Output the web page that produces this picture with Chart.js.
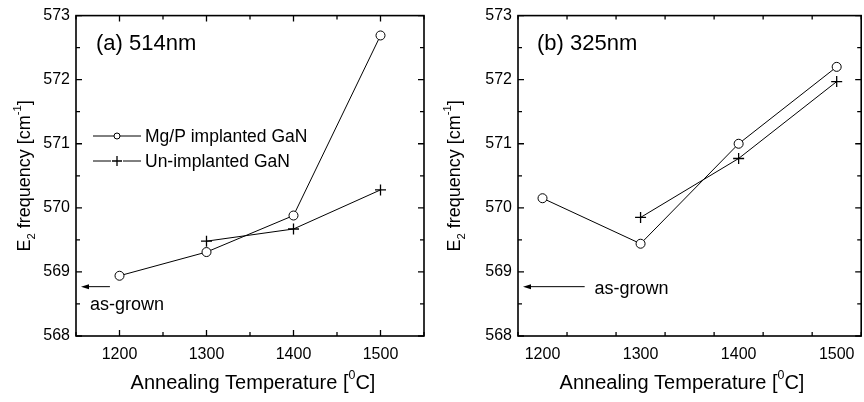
<!DOCTYPE html>
<html>
<head>
<meta charset="utf-8">
<script src="https://cdn.jsdelivr.net/npm/chart.js@4"></script>
<style>
html, body { margin: 0; padding: 0; background: #fff; overflow: hidden; width: 864px; height: 402px; }
#a { position: absolute; left: 0; top: 0; width: 432px; height: 402px; }
#b { position: absolute; left: 432px; top: 0; width: 436px; height: 402px; }
</style>
</head>
<body>
<div id="a"><canvas id="c1"></canvas></div>
<div id="b"><canvas id="c2"></canvas></div>
<script>
// annealing temperatures (C)
const temps = [1200, 1300, 1400, 1500];
// E2 frequency (cm-1), 514nm excitation
const mgp514 = [568.94, 569.31, 569.88, 572.69];
const un514 = [null, 569.48, 569.67, 570.28];
// E2 frequency (cm-1), 325nm excitation
const mgp325 = [570.15, 569.44, 571.0, 572.2];
const un325 = [null, 569.85, 570.77, 571.97];
const asGrown514 = 568.77;
const asGrown325 = 568.77;
const xTicks = [1200, 1300, 1400, 1500];
const yTicks = [568, 569, 570, 571, 572, 573];

const FONT = 'Arial, "Liberation Sans", sans-serif';

const pts = arr => temps.map((t, i) => ({ x: t, y: arr[i] })).filter(p => p.y !== null);

function rich(ctx, parts, cx, cy, size, rot) {
  ctx.save();
  ctx.translate(cx, cy);
  if (rot) ctx.rotate(-Math.PI / 2);
  ctx.textBaseline = 'middle';
  ctx.textAlign = 'left';
  ctx.fillStyle = '#000';
  let w = 0;
  parts.forEach(p => {
    ctx.font = (p[1] ? size * 0.62 : size) + 'px ' + FONT;
    w += ctx.measureText(p[0]).width;
  });
  let x = -w / 2;
  parts.forEach(p => {
    ctx.font = (p[1] ? size * 0.62 : size) + 'px ' + FONT;
    ctx.fillText(p[0], x, p[1] * size * 0.38);
    x += ctx.measureText(p[0]).width;
  });
  ctx.restore();
}

function cross(ctx, x, y, r) {
  ctx.beginPath();
  ctx.moveTo(x - r, y); ctx.lineTo(x + r, y);
  ctx.moveTo(x, y - r); ctx.lineTo(x, y + r);
  ctx.stroke();
}

const deco = {
  id: 'deco',
  afterDraw(chart, args, o) {
    const { ctx, chartArea: a, scales: { x, y } } = chart;
    ctx.save();
    ctx.strokeStyle = '#000';
    ctx.fillStyle = '#000';
    // frame
    ctx.lineWidth = 1.6;
    ctx.strokeRect(a.left, a.top, a.right - a.left, a.bottom - a.top);
    // inward ticks on all sides
    ctx.lineWidth = 1.3;
    ctx.beginPath();
    for (let v = x.min; v <= x.max + 0.1; v += 50) {
      const px = x.getPixelForValue(v);
      const len = v % 100 === 0 ? 6 : 4;
      ctx.moveTo(px, a.bottom); ctx.lineTo(px, a.bottom - len);
      ctx.moveTo(px, a.top); ctx.lineTo(px, a.top + len);
    }
    for (let v = y.min; v <= y.max + 0.01; v += 0.5) {
      const py = y.getPixelForValue(v);
      const len = Number.isInteger(v) ? 6 : 4;
      ctx.moveTo(a.left, py); ctx.lineTo(a.left + len, py);
      ctx.moveTo(a.right, py); ctx.lineTo(a.right - len, py);
    }
    ctx.stroke();

    // axis titles
    rich(ctx, [['E', 0], ['2', 1], [' frequency [cm', 0], ['-1', -1], [']', 0]], o.yTitleX, (a.top + a.bottom) / 2, 18, true);
    rich(ctx, [['Annealing Temperature [', 0], ['0', -1], ['C]', 0]], o.xTitleX, 383, 20, false);

    // panel label
    ctx.font = '22px ' + FONT;
    ctx.textBaseline = 'middle';
    ctx.textAlign = 'left';
    ctx.fillText(o.label, a.left + o.labelDx, 44);

    // as-grown arrow
    const ay = y.getPixelForValue(o.asGrown);
    const x0 = a.left + 5;
    const x1 = x.getPixelForValue(o.arrowEnd);
    ctx.lineWidth = 1;
    ctx.beginPath();
    ctx.moveTo(x0 + 6, ay); ctx.lineTo(x1, ay);
    ctx.stroke();
    ctx.beginPath();
    ctx.moveTo(x0, ay); ctx.lineTo(x0 + 8, ay - 2.5); ctx.lineTo(x0 + 8, ay + 2.5); ctx.closePath();
    ctx.fill();
    ctx.font = '18px ' + FONT;
    ctx.fillText('as-grown', x.getPixelForValue(o.textX), ay + o.textDy);

    // legend
    if (o.legend) {
      const rows = [['Mg/P implanted GaN', 'circle', 136], ['Un-implanted GaN', 'cross', 161]];
      rows.forEach(r => {
        const ly = r[2];
        ctx.lineWidth = 1;
        ctx.beginPath();
        ctx.moveTo(93, ly); ctx.lineTo(141, ly);
        ctx.stroke();
        if (r[1] === 'circle') {
          ctx.beginPath();
          ctx.fillStyle = '#fff';
          ctx.arc(117, ly, 3, 0, Math.PI * 2);
          ctx.fill(); ctx.stroke();
          ctx.fillStyle = '#000';
        } else {
          ctx.fillStyle = '#fff';
          ctx.fillRect(111, ly - 2, 12, 4);
          ctx.fillStyle = '#000';
          ctx.lineWidth = 1.3;
          cross(ctx, 117, ly, 5);
        }
        ctx.font = '17.5px ' + FONT;
        ctx.fillText(r[0], 145, ly + 1);
      });
    }
    ctx.restore();
  }
};

function makeChart(id, mgp, un, xmin, xmax, yw, padRight, o) {
  return new Chart(document.getElementById(id), {
    type: 'line',
    data: {
      datasets: [
        {
          label: 'Mg/P implanted GaN',
          data: pts(mgp),
          borderColor: '#000',
          borderWidth: 1,
          pointStyle: 'circle',
          pointRadius: 4.5,
          pointBorderWidth: 1,
          pointBackgroundColor: '#fff',
          pointBorderColor: '#000',
        },
        {
          label: 'Un-implanted GaN',
          data: pts(un),
          borderColor: '#000',
          borderWidth: 1,
          pointStyle: 'cross',
          pointRadius: 5.5,
          pointBorderWidth: 1.3,
          pointBorderColor: '#000',
        },
      ],
    },
    options: {
      responsive: true,
      maintainAspectRatio: false,
      animation: false,
      events: [],
      layout: { padding: { top: 10, right: padRight, left: 0, bottom: 0 } },
      plugins: {
        legend: { display: false },
        tooltip: { enabled: false },
        deco: o,
      },
      scales: {
        x: {
          type: 'linear',
          min: xmin,
          max: xmax,
          grid: { display: false, drawTicks: false },
          border: { display: false },
          afterBuildTicks: s => { s.ticks = xTicks.map(v => ({ value: v })); },
          afterFit: s => { s.height = 66; },
          ticks: { color: '#000', padding: 9, font: { family: FONT, size: 16 }, maxRotation: 0, callback: v => String(v) },
        },
        y: {
          min: 568,
          max: 573,
          grid: { display: false, drawTicks: false },
          border: { display: false },
          afterBuildTicks: s => { s.ticks = yTicks.map(v => ({ value: v })); },
          afterFit: s => { s.width = yw; },
          ticks: { color: '#000', padding: 6, font: { family: FONT, size: 16 }, callback: v => String(v) },
        },
      },
    },
    plugins: [deco],
  });
}

makeChart('c1', mgp514, un514, 1150, 1550, 76, 8, {
  yTitleX: 25, xTitleX: 253, label: '(a) 514nm', labelDx: 20,
  asGrown: asGrown514, arrowEnd: 1189, textX: 1166, textDy: 18, legend: true,
});
makeChart('c2', mgp325, un325, 1175, 1525, 86, 3, {
  yTitleX: 23, xTitleX: 250, label: '(b) 325nm', labelDx: 19,
  asGrown: asGrown325, arrowEnd: 1243, textX: 1253, textDy: 2, legend: false,
});
</script>
</body>
</html>
